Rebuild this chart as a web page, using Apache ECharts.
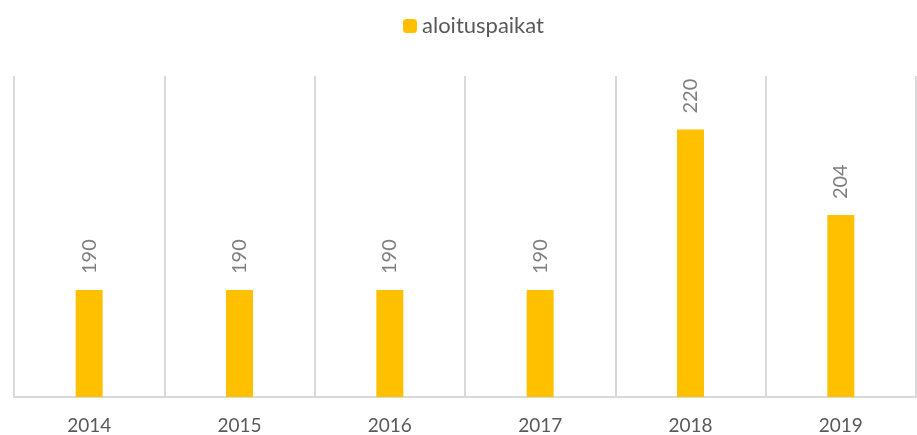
<!DOCTYPE html>
<html><head><meta charset="utf-8">
<script src="https://cdn.jsdelivr.net/npm/echarts@6/dist/echarts.min.js"></script>
<style>html,body{margin:0;padding:0;background:#fff}#c{width:917px;height:435px}</style>
</head><body><div id="c"></div>
<script>
var categories = ['2014','2015','2016','2017','2018','2019'];
var values = [190,190,190,190,220,204];
var seriesName = 'aloituspaikat';
var chart = echarts.init(document.getElementById('c'));
chart.setOption({
  animation:false,
  legend:{top:10,left:398,itemWidth:14,itemHeight:14,itemGap:5,
    textStyle:{fontFamily:'Lato',fontSize:22,color:'#595959'},data:[seriesName]},
  grid:{left:14,right:1,top:76,bottom:38},
  xAxis:{type:'category',data:categories,
    axisLine:{lineStyle:{color:'#d9d9d9',width:2}},axisTick:{show:false},
    splitLine:{show:true,lineStyle:{color:'#d9d9d9',width:2}},
    axisLabel:{fontFamily:'Lato',fontSize:19,color:'#595959',margin:19}},
  yAxis:{type:'value',min:170,max:230,show:false,splitLine:{show:false}},
  series:[{name:seriesName,type:'bar',data:values,barWidth:27,
    itemStyle:{color:'#ffc000'},
    label:{show:true,position:'top',rotate:90,align:'left',verticalAlign:'middle',distance:16,
      fontFamily:'Lato',fontSize:20,color:'#7f7f7f'}}]
});
</script></body></html>
